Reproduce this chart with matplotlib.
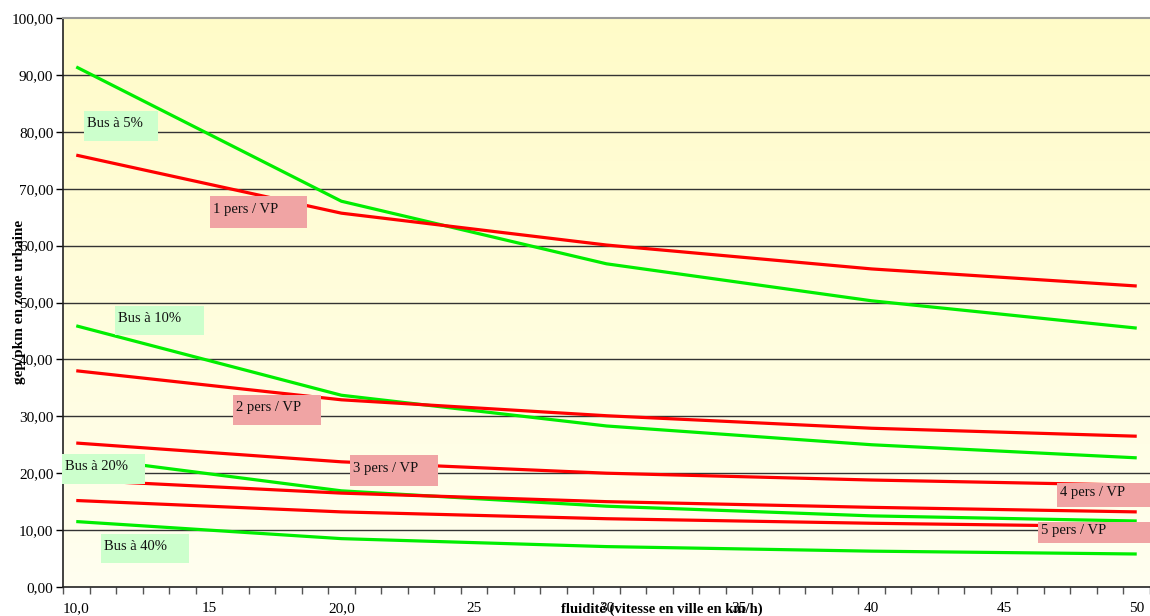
import numpy as np
import matplotlib
matplotlib.use("Agg")
import matplotlib.pyplot as plt
from matplotlib.patches import Rectangle

plt.rcParams['font.family'] = ['Liberation Serif', 'DejaVu Serif']

speeds = [10, 20, 30, 40, 50]
bus_5 = [91.4, 67.8, 56.8, 50.3, 45.5]
vp_1 = [75.9, 65.7, 60.1, 55.9, 52.9]
bus_10 = [45.9, 33.7, 28.3, 25.0, 22.7]
vp_2 = [38.0, 32.9, 30.1, 27.9, 26.5]
vp_3 = [25.3, 22.0, 20.0, 18.8, 17.9]
bus_20 = [22.9, 16.9, 14.2, 12.5, 11.6]
vp_4 = [18.8, 16.5, 15.0, 14.0, 13.2]
vp_5 = [15.2, 13.2, 12.0, 11.2, 10.6]
bus_40 = [11.5, 8.5, 7.1, 6.3, 5.8]

x_tick_values = [10, 15, 20, 25, 30, 35, 40, 45, 50]
x_tick_labels = ["10,0", "15", "20,0", "25", "30", "35", "40", "45", "50"]
y_ticks = list(range(0, 101, 10))
y_tick_labels = [f"{v},00" for v in y_ticks]

# label boxes: text, (x0, y0, x1, y1) in data coords, colour
labels = [
    ("Bus à 5%", (10.29, 78.4, 13.08, 83.7), "#ccffcc"),
    ("1 pers / VP", (15.05, 63.1, 18.70, 68.7), "#f0a4a4"),
    ("Bus à 10%", (11.46, 44.3, 14.82, 49.4), "#ccffcc"),
    ("2 pers / VP", (15.91, 28.5, 19.23, 33.7), "#f0a4a4"),
    ("3 pers / VP", (20.33, 17.75, 23.65, 23.2), "#f0a4a4"),
    ("Bus à 20%", (9.46, 18.1, 12.59, 23.4), "#ccffcc"),
    ("4 pers / VP", (46.99, 14.06, 50.6, 18.28), "#f0a4a4"),
    ("5 pers / VP", (46.28, 7.7, 50.6, 11.4), "#f0a4a4"),
    ("Bus à 40%", (10.93, 4.2, 14.25, 9.3), "#ccffcc"),
]

fig = plt.figure(figsize=(11.5, 6.16), dpi=100)
ax = fig.add_axes([63/1150, 1-587/616, 1-63/1150, (587-18)/616])

xmin, xmax = 9.5, 50.5
ax.set_xlim(xmin, xmax)
ax.set_ylim(0, 100)

# gradient background
grad = np.linspace(0, 1, 256).reshape(-1, 1)
top = np.array([255, 251, 200]) / 255
bot = np.array([255, 255, 240]) / 255
img = top[None, None, :] * (1 - grad[:, :, None]) + bot[None, None, :] * grad[:, :, None]
ax.imshow(img, extent=[xmin, xmax, 0, 100], aspect='auto', origin='upper', zorder=0)

for yv in y_ticks[1:-1]:
    ax.axhline(yv, color='#333333', lw=1.0, zorder=1)

red = '#ff0000'
green = '#00ee00'
lw = 2.3
for series, col in [(bus_5, green), (vp_1, red), (bus_10, green), (vp_2, red),
                    (vp_3, red), (bus_20, green), (vp_4, red), (vp_5, red), (bus_40, green)]:
    ax.plot(speeds, series, color=col, lw=lw, zorder=2, solid_capstyle='butt')

for txt, (x0, y0, x1, y1), col in labels:
    ax.add_patch(Rectangle((x0, y0), x1 - x0, y1 - y0, facecolor=col, edgecolor='none',
                           zorder=3, clip_on=False))
    ax.text(x0 + 0.12, (y0 + y1) / 2 + 0.4, txt, fontsize=10.5, va='center', ha='left',
            color='#111111', zorder=4, clip_on=False)

ax.set_xticks(np.arange(9.5, 50.6, 1.0))
ax.set_xticklabels([])
ax.tick_params(axis='x', which='major', direction='out', length=5, width=1, color='#555555')
ax.set_xticks(x_tick_values, minor=True)
ax.set_xticklabels(x_tick_labels, minor=True, fontsize=11)
ax.tick_params(axis='x', which='minor', length=0, pad=11)

ax.set_yticks(y_ticks)
ax.set_yticklabels(y_tick_labels, fontsize=11)
ax.tick_params(axis='y', direction='out', length=5, width=1, pad=2)

for s in ['left', 'bottom']:
    ax.spines[s].set_color('#222222')
    ax.spines[s].set_linewidth(1.2)
ax.spines['top'].set_color('#999999')
ax.spines['top'].set_linewidth(1.5)
ax.spines['right'].set_visible(False)

fig.text(20/1150, 1-302/616, "gep/pkm en zone urbaine", rotation=90, fontsize=11,
         fontweight='bold', ha='center', va='center')
fig.text(662/1150, 1-609/616, "fluidité (vitesse en ville en km/h)", fontsize=10.5,
         fontweight='bold', ha='center', va='center')

fig.savefig("out.png", dpi=100)
